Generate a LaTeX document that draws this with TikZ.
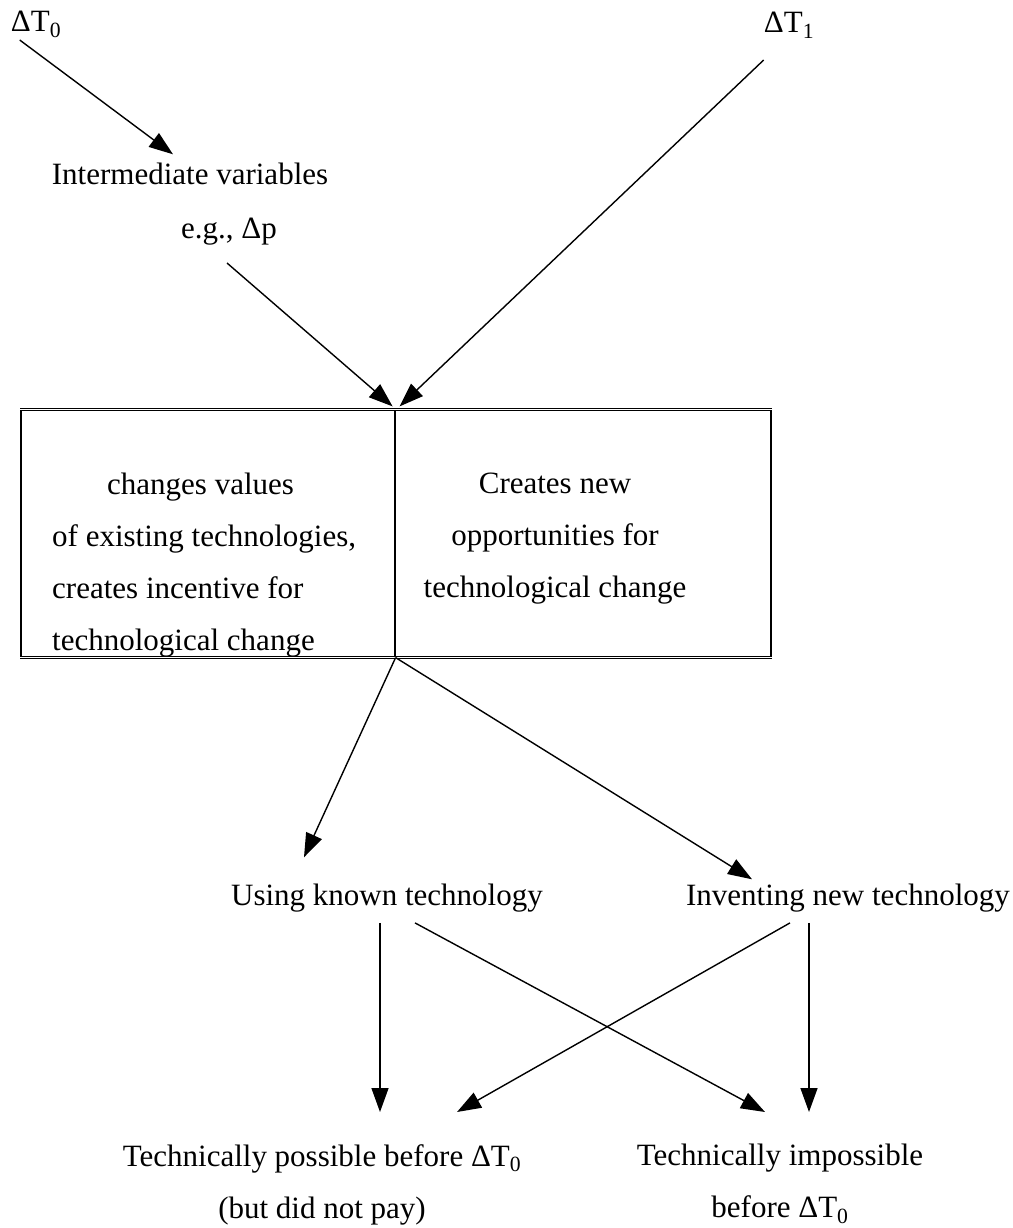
\documentclass[tikz,border=0pt]{standalone}
\usepackage{fontspec}
\setmainfont{Liberation Serif}
\usetikzlibrary{arrows.meta}
\tikzset{
    every node/.style={inner sep=0pt, font=\fontsize{31}{52}\selectfont},
    flow/.style={-{Triangle[length=24pt,width=17pt]}, line width=1.4pt},
    cell/.style={draw, line width=1.2pt, minimum height=247pt}
}

\begin{document}
\begin{tikzpicture}[x=1pt, y=-1pt]
    \useasboundingbox (0,0) rectangle (1012,1228);

    % Sources of the change
    \node[anchor=base] (dT0) at (36,32) {ΔT\textsubscript{0}};
    \node[anchor=base] (dT1) at (789,33) {ΔT\textsubscript{1}};
    \node[anchor=base] (inter) at (190,184) {Intermediate variables};
    \node[anchor=base] (eg) at (229,238) {e.g., Δp};

    % Split box
    \node[cell, minimum width=374pt] (cellL) at (208,533.5) {};
    \node[cell, minimum width=376pt] (cellR) at (583,533.5) {};
    \draw[double, double distance=0.7pt, line width=1pt] (cellL.north west) -- (cellR.north east);
    \draw[double, double distance=0.7pt, line width=1pt] (cellL.south west) -- (cellR.south east);
    \node[anchor=north west, align=left] (leftTxt) at (52,473)
        {\hspace*{55pt}changes values\\of existing technologies,\\creates incentive for\\technological change};
    \node[anchor=north, align=center] (rightTxt) at (555,473)
        {Creates new\\opportunities for\\technological change};

    % Two routes
    \node[anchor=base] (using) at (387,905) {Using known technology};
    \node[anchor=base] (invent) at (848,905) {Inventing new technology};

    % Outcomes
    \node[anchor=north, align=center] (possible) at (322,1144)
        {Technically possible before ΔT\textsubscript{0}\\(but did not pay)};
    \node[anchor=north, align=center] (impossible) at (780,1144)
        {Technically impossible\\before ΔT\textsubscript{0}};

    % Arrows into the box
    \draw[flow] ([xshift=9pt,yshift=-8pt]dT0.base west) -- ([xshift=-17pt,yshift=8pt]inter.north);
    \draw[flow] ([yshift=-27pt]dT1.base west) -- ([xshift=4pt,yshift=3pt]cellL.north east);
    \draw[flow] ([xshift=-2pt,yshift=-25pt]eg.base) -- ([xshift=-3pt,yshift=3pt]cellL.north east);

    % Arrows out of the box
    \draw[flow] (cellL.south east) -- ([xshift=-83pt,yshift=26pt]using.north);
    \draw[flow] (cellL.south east) -- ([xshift=-96pt,yshift=4pt]invent.north);

    % Crossing arrows to the outcomes
    \draw[flow] ([xshift=-7pt,yshift=-11pt]using.south) -- ([xshift=58pt,yshift=32pt]possible.north);
    \draw[flow] ([xshift=28pt,yshift=-11pt]using.south) -- ([xshift=-15pt,yshift=32pt]impossible.north);
    \draw[flow] ([xshift=-58pt,yshift=-11pt]invent.south) -- ([xshift=135pt,yshift=32pt]possible.north);
    \draw[flow] ([xshift=-39pt,yshift=-11pt]invent.south) -- ([xshift=29pt,yshift=32pt]impossible.north);
\end{tikzpicture}
\end{document}
